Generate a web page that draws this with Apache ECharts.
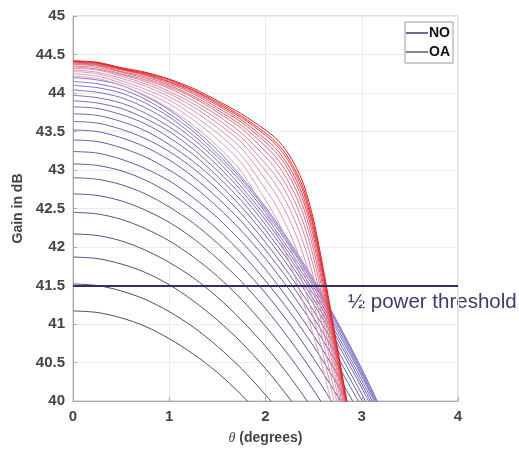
<!DOCTYPE html>
<html>
<head>
<meta charset="utf-8">
<script src="https://cdn.jsdelivr.net/npm/echarts@6/dist/echarts.min.js"></script>
<style>
  html, body { margin: 0; padding: 0; background: #fff; }
  #main { width: 519px; height: 450px; }
</style>
</head>
<body>
<div id="main"></div>
<script>
// angle samples (degrees)
var THETA_NO = [0, 0.25, 0.5, 0.75, 1, 1.25, 1.5, 1.75, 2, 2.25, 2.5, 2.75, 3, 3.25];
var THETA_OA = [0, 0.25, 0.5, 0.75, 1, 1.25, 1.5, 1.75, 2, 2.1, 2.2, 2.3, 2.4, 2.5, 2.6, 2.7, 2.8, 2.9];

// gain curves in dB, NO family (bottom to top)
var NO_GAIN = [
  [41.17, 41.15, 41.08, 40.97, 40.81, 40.61, 40.37, 40.08, 39.74],
  [41.52, 41.50, 41.43, 41.32, 41.16, 40.96, 40.71, 40.42, 40.08, 39.70],
  [41.87, 41.85, 41.78, 41.67, 41.51, 41.30, 41.05, 40.76, 40.42, 40.03, 39.60],
  [42.17, 42.15, 42.08, 41.96, 41.80, 41.60, 41.35, 41.05, 40.71, 40.32, 39.88],
  [42.45, 42.43, 42.36, 42.24, 42.08, 41.87, 41.62, 41.32, 40.97, 40.58, 40.14, 39.65],
  [42.69, 42.67, 42.60, 42.48, 42.32, 42.11, 41.85, 41.55, 41.20, 40.80, 40.36, 39.87],
  [42.90, 42.88, 42.81, 42.69, 42.52, 42.31, 42.05, 41.75, 41.40, 41.00, 40.55, 40.06, 39.52],
  [43.08, 43.06, 42.99, 42.87, 42.70, 42.49, 42.23, 41.92, 41.56, 41.16, 40.71, 40.21, 39.66],
  [43.24, 43.22, 43.14, 43.02, 42.86, 42.64, 42.38, 42.07, 41.71, 41.30, 40.85, 40.34, 39.79],
  [43.39, 43.37, 43.29, 43.17, 43.00, 42.79, 42.52, 42.21, 41.85, 41.44, 40.98, 40.47, 39.92],
  [43.52, 43.50, 43.42, 43.30, 43.13, 42.91, 42.64, 42.33, 41.96, 41.55, 41.08, 40.57, 40.01, 39.40],
  [43.63, 43.61, 43.53, 43.41, 43.24, 43.02, 42.75, 42.43, 42.06, 41.64, 41.17, 40.66, 40.09, 39.48],
  [43.73, 43.71, 43.63, 43.51, 43.33, 43.11, 42.84, 42.52, 42.15, 41.73, 41.26, 40.74, 40.17, 39.55],
  [43.82, 43.80, 43.72, 43.60, 43.42, 43.20, 42.92, 42.60, 42.22, 41.80, 41.32, 40.80, 40.22, 39.60],
  [43.90, 43.87, 43.80, 43.67, 43.50, 43.27, 42.99, 42.67, 42.29, 41.86, 41.38, 40.85, 40.27, 39.64],
  [43.97, 43.94, 43.87, 43.74, 43.56, 43.34, 43.06, 42.73, 42.35, 41.91, 41.43, 40.90, 40.32, 39.68],
  [44.04, 44.01, 43.94, 43.81, 43.63, 43.40, 43.12, 42.78, 42.40, 41.96, 41.48, 40.94, 40.35, 39.71],
  [44.10, 44.07, 44.00, 43.87, 43.69, 43.45, 43.17, 42.84, 42.45, 42.01, 41.52, 40.98, 40.38, 39.74],
  [44.15, 44.12, 44.05, 43.92, 43.73, 43.50, 43.21, 42.88, 42.49, 42.04, 41.55, 41.00, 40.41, 39.76],
  [44.20, 44.17, 44.10, 43.96, 43.78, 43.54, 43.26, 42.91, 42.52, 42.07, 41.58, 41.02, 40.42, 39.76]
];

// gain curves in dB, OA family (inner to outer)
var OA_GAIN = [
  [44.22, 44.19, 44.10, 43.97, 43.80, 43.58, 43.31, 42.98, 42.45, 42.22, 41.95, 41.63, 41.25, 40.85, 40.40, 39.90],
  [44.25, 44.22, 44.13, 44.01, 43.86, 43.65, 43.40, 43.09, 42.61, 42.40, 42.15, 41.85, 41.48, 41.08, 40.60, 40.07, 39.58],
  [44.28, 44.25, 44.16, 44.05, 43.91, 43.71, 43.48, 43.19, 42.75, 42.56, 42.32, 42.04, 41.68, 41.27, 40.77, 40.21, 39.69],
  [44.30, 44.27, 44.19, 44.09, 43.95, 43.77, 43.55, 43.28, 42.88, 42.70, 42.48, 42.21, 41.87, 41.45, 40.93, 40.35, 39.80],
  [44.32, 44.30, 44.22, 44.12, 43.99, 43.82, 43.61, 43.36, 42.99, 42.82, 42.62, 42.36, 42.03, 41.60, 41.06, 40.46, 39.89],
  [44.34, 44.31, 44.24, 44.15, 44.02, 43.86, 43.66, 43.42, 43.08, 42.93, 42.74, 42.49, 42.17, 41.74, 41.18, 40.56, 39.96],
  [44.35, 44.33, 44.25, 44.17, 44.06, 43.90, 43.71, 43.48, 43.17, 43.02, 42.84, 42.60, 42.29, 41.86, 41.28, 40.65, 40.03, 39.42],
  [44.37, 44.35, 44.27, 44.19, 44.08, 43.94, 43.75, 43.54, 43.24, 43.11, 42.93, 42.70, 42.40, 41.96, 41.38, 40.73, 40.09, 39.46],
  [44.38, 44.36, 44.28, 44.21, 44.10, 43.96, 43.78, 43.58, 43.31, 43.18, 43.01, 42.79, 42.49, 42.05, 41.46, 40.80, 40.15, 39.50],
  [44.39, 44.37, 44.30, 44.23, 44.12, 43.99, 43.81, 43.62, 43.36, 43.24, 43.08, 42.86, 42.57, 42.13, 41.52, 40.85, 40.19, 39.53],
  [44.40, 44.38, 44.31, 44.24, 44.14, 44.01, 43.84, 43.65, 43.40, 43.29, 43.13, 42.92, 42.63, 42.19, 41.58, 40.90, 40.22, 39.55],
  [44.41, 44.39, 44.31, 44.25, 44.15, 44.03, 43.86, 43.68, 43.45, 43.34, 43.19, 42.98, 42.69, 42.25, 41.63, 40.94, 40.26, 39.58],
  [44.41, 44.39, 44.32, 44.26, 44.17, 44.04, 43.88, 43.70, 43.48, 43.37, 43.23, 43.02, 42.74, 42.29, 41.67, 40.98, 40.29, 39.60],
  [44.42, 44.40, 44.33, 44.27, 44.18, 44.06, 43.90, 43.73, 43.52, 43.42, 43.28, 43.08, 42.80, 42.35, 41.72, 41.02, 40.32, 39.62]
];

var THRESHOLD = 41.5;
var THRESHOLD_LABEL = '½ power threshold';

function mix(a, b, t) {
  return 'rgb(' + [0, 1, 2].map(function (k) { return Math.round(a[k] + (b[k] - a[k]) * t); }).join(',') + ')';
}

function curve(theta, vals) {
  return vals.map(function (v, i) { return [theta[i], v]; });
}

var series = [];

NO_GAIN.forEach(function (vals, i) {
  series.push({
    name: 'NO',
    type: 'line',
    symbol: 'none',
    smooth: 0.3,
    silent: true,
    data: curve(THETA_NO, vals),
    lineStyle: { width: 1, color: mix([72, 72, 118], [132, 118, 208], i / (NO_GAIN.length - 1)) }
  });
});

OA_GAIN.forEach(function (vals, i) {
  series.push({
    name: 'OA',
    type: 'line',
    symbol: 'none',
    smooth: 0.3,
    silent: true,
    data: curve(THETA_OA, vals),
    lineStyle: { width: 1, color: mix([218, 160, 190], [226, 30, 30], Math.pow(i / (OA_GAIN.length - 1), 1.6)) }
  });
});

series.push({
  name: 'threshold',
  type: 'line',
  data: [],
  silent: true,
  markLine: {
    silent: true,
    symbol: 'none',
    label: { show: false },
    lineStyle: { color: '#2e2e6a', width: 2, type: 'solid' },
    data: [{ yAxis: THRESHOLD }]
  }
});

var chart = echarts.init(document.getElementById('main'));

chart.setOption({
  animation: false,
  grid: {
    left: 73, top: 16, right: 61, bottom: 49,
    show: true, borderColor: '#bdbdbd', borderWidth: 1
  },
  legend: {
    data: [
      { name: 'NO', itemStyle: { color: '#3b3b70' } },
      { name: 'OA', itemStyle: { color: '#5a5a6a' } }
    ],
    orient: 'vertical',
    right: 66,
    top: 22,
    padding: [4, 3, 4, 1],
    itemGap: 5,
    itemWidth: 22,
    itemHeight: 1.5,
    icon: 'rect',
    backgroundColor: '#fff',
    borderColor: '#9a9a9a',
    borderWidth: 1,
    selectedMode: false,
    textStyle: { fontFamily: 'Liberation Sans, Arial', fontWeight: 'bold', fontSize: 14, color: '#111', padding: [0, 0, 0, -4] }
  },
  xAxis: {
    type: 'value',
    min: 0, max: 4, interval: 1,
    name: '{i|θ} (degrees)',
    nameLocation: 'middle',
    nameGap: 30,
    nameTextStyle: {
      fontFamily: 'Liberation Sans, Arial', fontWeight: 'bold', fontSize: 14, color: '#444',
      rich: { i: { fontStyle: 'italic', fontWeight: 'normal', fontFamily: 'Liberation Serif, Times New Roman', fontSize: 14, color: '#444' } }
    },
    axisLine: { show: true, lineStyle: { color: '#aaa' } },
    axisTick: { inside: true, length: 4, lineStyle: { color: '#aaa' } },
    axisLabel: { fontFamily: 'Liberation Sans, Arial', fontWeight: 'bold', fontSize: 15, color: '#444', margin: 8 },
    splitLine: { show: true, lineStyle: { color: '#ececec' } }
  },
  yAxis: {
    type: 'value',
    min: 40, max: 45, interval: 0.5,
    name: 'Gain in dB',
    nameLocation: 'middle',
    nameGap: 46,
    nameTextStyle: { fontFamily: 'Liberation Sans, Arial', fontWeight: 'bold', fontSize: 14, color: '#444' },
    axisLine: { show: true, lineStyle: { color: '#aaa' } },
    axisTick: { inside: true, length: 4, lineStyle: { color: '#aaa' } },
    axisLabel: { fontFamily: 'Liberation Sans, Arial', fontWeight: 'bold', fontSize: 15, color: '#444', margin: 8 },
    splitLine: { show: true, lineStyle: { color: '#ececec' } }
  },
  graphic: [{
    type: 'text',
    left: 348,
    top: 292,
    silent: true,
    style: {
      text: THRESHOLD_LABEL,
      fontFamily: 'Liberation Sans, Arial',
      fontSize: 20.5,
      fill: '#3c3c6c'
    }
  }],
  series: series
});
</script>
</body>
</html>
